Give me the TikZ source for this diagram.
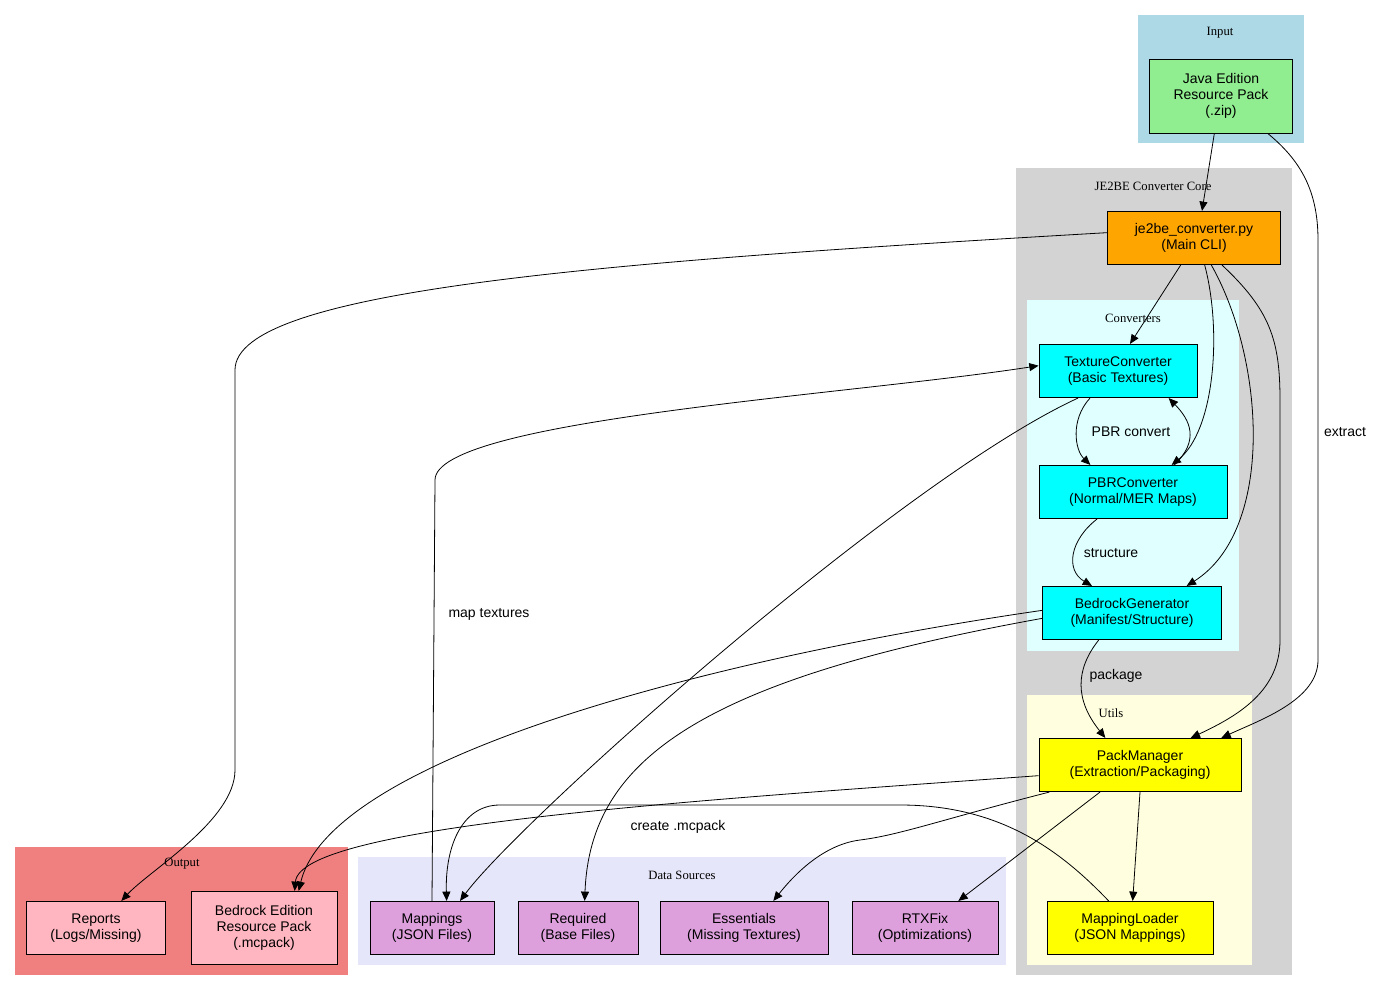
\documentclass[tikz,border=0pt]{standalone}
\usepackage{fontspec}
\setmainfont{Liberation Serif}
\setsansfont{Liberation Sans}
\usetikzlibrary{arrows.meta}
\definecolor{clblue}{RGB}{173,216,230}
\definecolor{clgray}{RGB}{211,211,211}
\definecolor{clcyan}{RGB}{224,255,255}
\definecolor{clyellow}{RGB}{255,255,224}
\definecolor{clcoral}{RGB}{240,128,128}
\definecolor{cllav}{RGB}{230,230,250}
\definecolor{ndgreen}{RGB}{144,238,144}
\definecolor{ndorange}{RGB}{255,165,0}
\definecolor{ndcyan}{RGB}{0,255,255}
\definecolor{ndyellow}{RGB}{255,255,0}
\definecolor{ndpink}{RGB}{255,182,193}
\definecolor{ndplum}{RGB}{221,160,221}
\tikzset{
  box/.style={draw,line width=0.6pt,align=center,inner sep=0pt,
    font=\sffamily\fontsize{10.5}{12.2}\selectfont},
  clabel/.style={font=\rmfamily\fontsize{9.5}{11}\selectfont},
  elabel/.style={font=\sffamily\fontsize{10.5}{12}\selectfont},
  edge/.style={-{Triangle[length=7pt,width=6pt]},line width=0.6pt},
}
\begin{document}
\begin{tikzpicture}[x=0.75pt,y=-0.75pt]
\useasboundingbox (0,0) rectangle (1378,992);
% clusters
\fill[clblue](1138,15) rectangle (1304,143);
\fill[clgray](1016,168) rectangle (1292,975);
\fill[clcyan](1027,300) rectangle (1239,651);
\fill[clyellow](1027,695) rectangle (1252,965);
\fill[clcoral](15,847) rectangle (348,975);
\fill[cllav](358,857) rectangle (1006,965);
\node[clabel] (lInput) at (1220,33) {Input};
\node[clabel] (lCore) at (1153,186) {JE2BE Converter Core};
\node[clabel] (lConv) at (1133,318) {Converters};
\node[clabel] (lUtils) at (1111,713) {Utils};
\node[clabel] (lOut) at (182,864) {Output};
\node[clabel] (lData) at (682,875) {Data Sources};
% nodes
\node[box,fill=ndgreen,minimum width=107pt,minimum height=55.5pt] (java) at (1221,96) {Java Edition\\Resource Pack\\(.zip)};
\node[box,fill=ndorange,minimum width=130pt,minimum height=40pt] (main) at (1194,238) {je2be\_converter.py\\(Main CLI)};
\node[box,fill=ndcyan,minimum width=118.5pt,minimum height=40pt] (tex) at (1118,371) {TextureConverter\\(Basic Textures)};
\node[box,fill=ndcyan,minimum width=141pt,minimum height=40pt] (pbr) at (1133,492) {PBRConverter\\(Normal/MER Maps)};
\node[box,fill=ndcyan,minimum width=134pt,minimum height=40pt] (bgen) at (1132,613) {BedrockGenerator\\(Manifest/Structure)};
\node[box,fill=ndyellow,minimum width=151.5pt,minimum height=40pt] (pack) at (1140,765) {PackManager\\(Extraction/Packaging)};
\node[box,fill=ndyellow,minimum width=124.5pt,minimum height=40pt] (mload) at (1130,928) {MappingLoader\\(JSON Mappings)};
\node[box,fill=ndpink,minimum width=104pt,minimum height=40pt] (reports) at (96,928) {Reports\\(Logs/Missing)};
\node[box,fill=ndpink,minimum width=109.5pt,minimum height=55pt] (bout) at (264,928) {Bedrock Edition\\Resource Pack\\(.mcpack)};
\node[box,fill=ndplum,minimum width=93pt,minimum height=40pt] (maps) at (432,928) {Mappings\\(JSON Files)};
\node[box,fill=ndplum,minimum width=90pt,minimum height=40pt] (req) at (578,928) {Required\\(Base Files)};
\node[box,fill=ndplum,minimum width=126pt,minimum height=40pt] (ess) at (744,928) {Essentials\\(Missing Textures)};
\node[box,fill=ndplum,minimum width=109.5pt,minimum height=40pt] (rtx) at (925,928) {RTXFix\\(Optimizations)};
% edges
\draw[edge] ([xshift=-5pt]java.south) -- ([xshift=6pt]main.north);
\draw[edge] ([xshift=35pt]java.south) .. controls (1300,160) and (1318,190) .. (1318,240) -- (1318,660) .. controls (1318,700) and (1260,720) .. ([xshift=61pt]pack.north);
\node[elabel] (lExtract) at (1345,432) {extract};
\draw[edge] ([yshift=4pt]main.west) .. controls (600,262) and (235,290) .. (235,370) -- (235,770) .. controls (235,820) and (150,870) .. ([xshift=19pt]reports.north);
\draw[edge] ([xshift=-10pt]main.south) -- ([xshift=9pt]tex.north);
\draw[edge] ([xshift=8pt]main.south) .. controls (1222,330) and (1215,430) .. ([xshift=29pt]pbr.north);
\draw[edge] ([xshift=13pt]main.south) .. controls (1265,360) and (1275,530) .. ([xshift=41pt]bgen.north);
\draw[edge] ([xshift=21pt]main.south) .. controls (1270,310) and (1280,340) .. (1280,400) -- (1280,640) .. controls (1280,690) and (1240,715) .. ([xshift=38pt]pack.north);
\draw[edge] ([xshift=-21pt]tex.south) .. controls (1070,420) and (1075,450) .. ([xshift=-32pt]pbr.north);
\node[elabel] (lPbr) at (1131,432) {PBR convert};
\draw[edge] ([xshift=31pt]pbr.north) .. controls (1200,440) and (1190,420) .. ([xshift=38pt]tex.south);
\draw[edge] ([xshift=-30pt]tex.south) .. controls (900,480) and (520,820) .. ([xshift=21pt]maps.north);
\draw[edge] (maps.north) -- (435,480) .. controls (435,420) and (850,395) .. ([yshift=4pt]tex.west);
\node[elabel] (lMap) at (489,614) {map textures};
\draw[edge] ([xshift=-27pt]pbr.south) .. controls (1070,540) and (1065,570) .. ([xshift=-30pt]bgen.north);
\node[elabel] (lStruct) at (1111,553) {structure};
\draw[edge] ([xshift=-25pt]bgen.south) .. controls (1075,670) and (1075,700) .. ([xshift=-26pt]pack.north);
\node[elabel] (lPack) at (1116,676) {package};
\draw[edge] ([yshift=2pt]bgen.west) .. controls (700,660) and (330,760) .. ([xshift=26pt]bout.north);
\draw[edge] ([yshift=-4pt]bgen.west) .. controls (700,680) and (590,760) .. ([xshift=5pt]req.north);
\draw[edge] ([yshift=-8pt]pack.west) .. controls (700,800) and (300,825) .. ([xshift=23pt]bout.north);
\node[elabel] (lCreate) at (678,827) {create .mcpack};
\draw[edge] ([xshift=-68pt]pack.south) .. controls (940,820) and (900,835) .. (860,840) .. controls (820,845) and (790,880) .. ([xshift=22pt]ess.north);
\draw[edge] ([xshift=-30pt]pack.south) -- ([xshift=25pt]rtx.north);
\draw[edge] (pack.south) -- ([xshift=2pt]mload.north);
\draw[edge] ([xshift=-16pt]mload.north) .. controls (1060,850) and (1000,805) .. (900,805) -- (500,805) .. controls (460,805) and (445,850) .. ([xshift=11pt]maps.north);
\end{tikzpicture}
\end{document}
